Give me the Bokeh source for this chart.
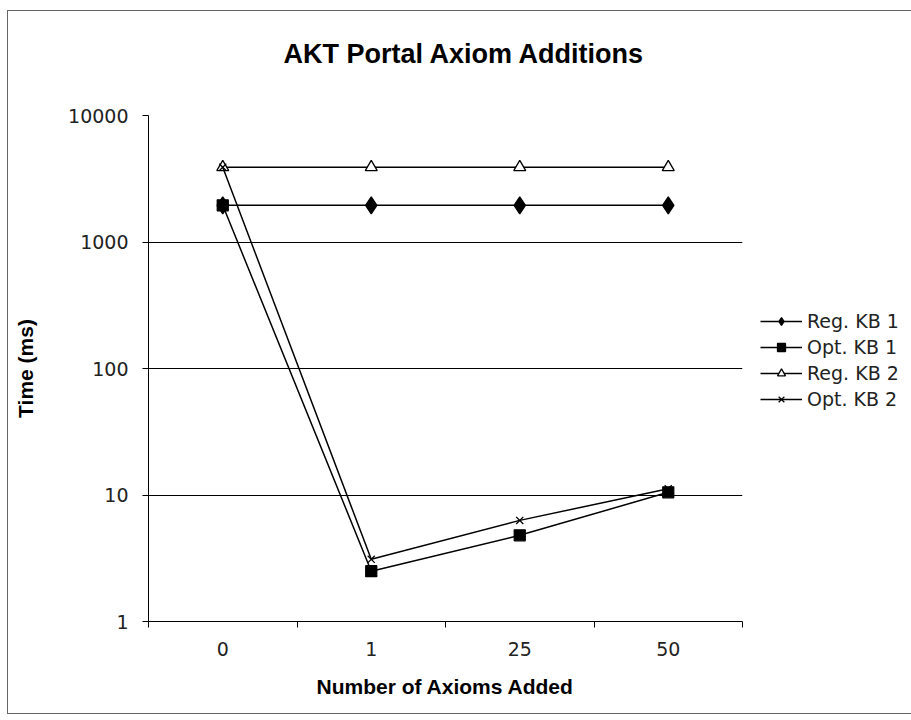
from bokeh.plotting import figure
from bokeh.models import FixedTicker, Range1d, Legend, LegendItem, Title
from bokeh.embed import file_html
from bokeh.resources import INLINE

# ---- data ----
categories = ["0", "1", "25", "50"]
reg_kb1 = [1950, 1950, 1950, 1950]
opt_kb1 = [1950, 2.5, 4.8, 10.5]
reg_kb2 = [3900, 3900, 3900, 3900]
opt_kb2 = [3900, 3.1, 6.3, 11.2]
series_names = ["Reg. KB 1", "Opt. KB 1", "Reg. KB 2", "Opt. KB 2"]
y_ticks = [1, 10, 100, 1000, 10000]
y_tick_labels = ["1", "10", "100", "1000", "10000"]
title_text = "AKT Portal Axiom Additions"

n = len(categories)
x_pos = [i + 0.5 for i in range(n)]

p = figure(frame_width=594, frame_height=506, y_axis_type="log",
           x_range=Range1d(0, n), y_range=Range1d(1, 10000),
           output_backend="svg", toolbar_location=None,
           min_border_left=140, min_border_right=0,
           min_border_top=104, min_border_bottom=92)
p.margin = (10, 0, 0, 7)
p.styles = {"border-left": "1px solid #666", "border-top": "1px solid #666",
            "border-bottom": "1px solid #666"}
p.outline_line_color = None
p.background_fill_color = "white"
p.border_fill_color = "white"

# spacer (closest to the frame) then the real title above it
p.add_layout(Title(text=" ", text_font_size="14px", standoff=5), "above")
p.add_layout(Title(text=title_text, align="left", offset=135,
                   text_font="Liberation Sans", text_font_style="bold",
                   text_font_size="27px", text_color="black", standoff=48), "above")

# x axis: category labels centred, ticks at boundaries
xa = p.xaxis[0]
xa.ticker = FixedTicker(ticks=x_pos, minor_ticks=list(range(n + 1)))
xa.major_label_overrides = {x: c for x, c in zip(x_pos, categories)}
xa.major_tick_line_color = None
xa.minor_tick_in = 0
xa.minor_tick_out = 6
xa.minor_tick_line_color = "black"
xa.axis_line_color = "black"
xa.major_label_text_font = "DejaVu Sans"
xa.major_label_text_font_size = "19px"
xa.major_label_text_color = "#222"
xa.major_label_standoff = 14
xa.axis_label = "Number of Axioms Added"
xa.axis_label_text_font = "Liberation Sans"
xa.axis_label_text_font_style = "bold"
xa.axis_label_text_font_size = "21px"
xa.axis_label_text_color = "black"
xa.axis_label_standoff = 16

ya = p.yaxis[0]
ya.ticker = FixedTicker(ticks=y_ticks, minor_ticks=[])
ya.major_label_overrides = {t: l for t, l in zip(y_ticks, y_tick_labels)}
ya.major_tick_in = 0
ya.major_tick_out = 6
ya.major_tick_line_color = "black"
ya.minor_tick_line_color = None
ya.axis_line_color = "black"
ya.major_label_text_font = "DejaVu Sans"
ya.major_label_text_font_size = "19px"
ya.major_label_text_color = "#222"
ya.major_label_standoff = 14
ya.axis_label = "Time (ms)"
ya.axis_label_text_font = "Liberation Sans"
ya.axis_label_text_font_style = "bold"
ya.axis_label_text_font_size = "21px"
ya.axis_label_text_color = "black"
ya.axis_label_standoff = 28

p.xgrid.grid_line_color = None
p.ygrid[0].ticker = FixedTicker(ticks=y_ticks[1:-1], minor_ticks=[])
p.ygrid.grid_line_color = "black"
p.ygrid.grid_line_width = 1.2

styles = [
    dict(marker="diamond", size=17, fill_color="black"),
    dict(marker="square", size=11, fill_color="black"),
    dict(marker="triangle", size=12, fill_color="white"),
    dict(marker="x", size=10, fill_color="black"),
]
items = []
for name, ys, st in zip(series_names, [reg_kb1, opt_kb1, reg_kb2, opt_kb2], styles):
    r1 = p.line(x_pos, ys, line_color="black", line_width=1.5)
    r2 = p.scatter(x_pos, ys, marker=st["marker"], size=st["size"],
                   fill_color=st["fill_color"], line_color="black", line_width=1.3)
    items.append(LegendItem(label=name, renderers=[r1, r2]))

lg = Legend(items=items, location=(18, 211))
lg.border_line_color = None
lg.background_fill_alpha = 0
lg.padding = 0
lg.margin = 0
lg.spacing = 4
lg.glyph_width = 42
lg.glyph_height = 20
lg.label_height = 20
lg.label_standoff = 5
lg.label_text_font = "DejaVu Sans"
lg.label_text_font_size = "19px"
lg.label_text_color = "#222"
p.add_layout(lg, "right")

open("out.html", "w").write(file_html(p, INLINE))
